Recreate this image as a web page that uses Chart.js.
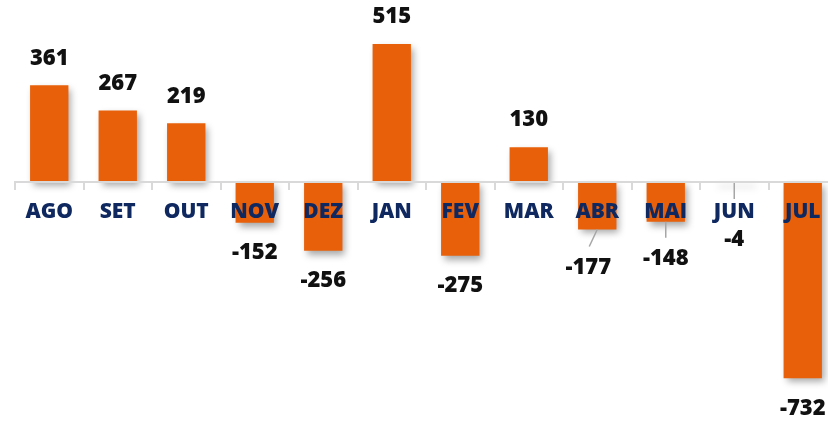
<!DOCTYPE html>
<html>
<head>
<meta charset="utf-8">
<script src="https://cdn.jsdelivr.net/npm/chart.js@4"></script>
<style>
  html, body { margin: 0; padding: 0; background: #fff; overflow: hidden; }
  #wrap { width: 840px; height: 422px; }
</style>
</head>
<body>
<div id="wrap"><canvas id="saldoChart"></canvas></div>
<script>
// months and monthly balance
const months = ['AGO', 'SET', 'OUT', 'NOV', 'DEZ', 'JAN', 'FEV', 'MAR', 'ABR', 'MAI', 'JUN', 'JUL'];
const saldo = [361, 267, 219, -152, -256, 515, -275, 130, -177, -148, -4, -732];

// extra shift of a few value labels (x, y) and which ones get a leader line
const labelNudge = [[0,0],[0,0],[0,0],[0,0],[0,0],[0,0],[0,0],[0,0],[-9,8],[0,7],[0,27],[0,0]];
const leaderEnd = [null,null,null,null,null,null,null,null,[-8,17],[0,16],[0,16],null];

const barColor = '#E8600A';
const navy = '#0F2960';
const axisGray = '#d9d9d9';

// soft shadow under the bars
const barShadow = {
  id: 'barShadow',
  beforeDatasetsDraw(chart) {
    const ctx = chart.ctx;
    ctx.save();
    ctx.shadowColor = 'rgba(0,0,0,0.35)';
    ctx.shadowBlur = 7;
    ctx.shadowOffsetX = 3;
    ctx.shadowOffsetY = 4;
  },
  afterDatasetsDraw(chart) {
    chart.ctx.restore();
  }
};

// axis line over the bars, month names on top, value labels above / below the bars
const labelsOnTop = {
  id: 'labelsOnTop',
  afterDraw(chart) {
    const ctx = chart.ctx;
    const xs = chart.scales.x;
    const y0 = chart.scales.y.getPixelForValue(0);
    const meta = chart.getDatasetMeta(0);
    ctx.save();

    ctx.strokeStyle = axisGray;
    ctx.lineWidth = 2;
    ctx.beginPath();
    ctx.moveTo(chart.chartArea.left, y0);
    ctx.lineTo(chart.chartArea.right, y0);
    ctx.stroke();

    ctx.textAlign = 'center';
    ctx.textBaseline = 'middle';
    ctx.font = '800 21px "Open Sans"';
    ctx.fillStyle = navy;
    months.forEach((m, i) => {
      ctx.fillText(m, xs.getPixelForValue(i), y0 + 30);
    });

    ctx.font = '800 22px "Open Sans"';
    ctx.fillStyle = '#111';
    meta.data.forEach((bar, i) => {
      const v = saldo[i];
      const n = labelNudge[i];
      const y = v >= 0 ? bar.y - 27 : bar.y + 30;
      ctx.fillText(String(v), bar.x + n[0], y + n[1]);
      if (leaderEnd[i]) {
        ctx.strokeStyle = '#a6a6a6';
        ctx.lineWidth = 1.5;
        ctx.beginPath();
        ctx.moveTo(bar.x, bar.y);
        ctx.lineTo(bar.x + leaderEnd[i][0], bar.y + leaderEnd[i][1]);
        ctx.stroke();
      }
    });
    ctx.restore();
  }
};

new Chart(document.getElementById('saldoChart'), {
  type: 'bar',
  data: {
    labels: months,
    datasets: [{
      data: saldo,
      backgroundColor: barColor,
      borderWidth: 0,
      barPercentage: 0.56,
      categoryPercentage: 1
    }]
  },
  options: {
    responsive: true,
    maintainAspectRatio: false,
    animation: false,
    layout: { padding: { left: 15, right: 3, top: 0, bottom: 0 } },
    plugins: { legend: { display: false }, tooltip: { enabled: false } },
    scales: {
      x: {
        position: { y: 0 },
        offset: true,
        grid: {
          offset: true,
          drawOnChartArea: false,
          drawTicks: true,
          tickLength: 7,
          color: axisGray,
          lineWidth: 2
        },
        border: { display: true, color: axisGray, width: 2 },
        ticks: { display: false }
      },
      y: {
        display: false,
        min: -895,
        max: 679
      }
    }
  },
  plugins: [barShadow, labelsOnTop]
});
</script>
</body>
</html>
